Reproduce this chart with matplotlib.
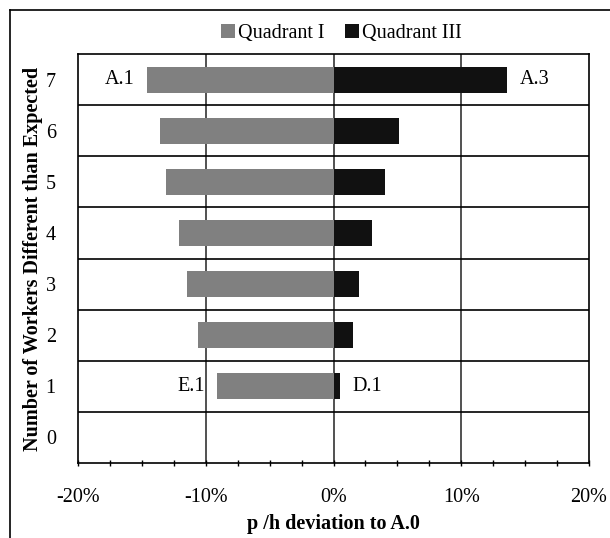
import matplotlib
matplotlib.use("Agg")
import matplotlib.pyplot as plt
from matplotlib.patches import Patch
from matplotlib.lines import Line2D
from matplotlib.ticker import MultipleLocator, FuncFormatter

plt.rcParams['font.family'] = ['Liberation Serif', 'DejaVu Serif']

# Number of workers different than expected (y categories)
workers = [1, 2, 3, 4, 5, 6, 7]
# p/h deviation to A.0, in percent
quadrant_1 = [-9.1, -10.6, -11.5, -12.1, -13.1, -13.6, -14.6]
quadrant_3 = [0.5, 1.5, 2.0, 3.0, 4.0, 5.1, 13.6]
series_names = ["Quadrant I", "Quadrant III"]
colors = ["#808080", "#111111"]

# Scenario labels attached to bar ends: (workers, series index, text)
bar_labels = [(7, 0, "A.1"), (7, 1, "A.3"), (1, 0, "E.1"), (1, 1, "D.1")]

FS = 14.5
fig = plt.figure(figsize=(6.10, 5.38), dpi=100)
ax = fig.add_axes([0.1279, 0.14, 0.8377, 0.759])

ax.barh(workers, quadrant_1, height=0.5, color=colors[0], zorder=3)
ax.barh(workers, quadrant_3, height=0.5, color=colors[1], zorder=3)

series = [quadrant_1, quadrant_3]
for w, s, txt in bar_labels:
    v = series[s][workers.index(w)]
    off = -9 if v < 0 else 9
    ax.annotate(txt, xy=(v, w), xytext=(off, 0), textcoords="offset points",
                ha="right" if v < 0 else "left", va="center", fontsize=FS)

ax.set_xlim(-20, 20)
ax.set_ylim(-0.5, 7.5)

# gridlines
for x in (-10, 0, 10):
    ax.axvline(x, color="#333333", lw=1.2, zorder=1)
for y in [k + 0.5 for k in range(7)]:
    ax.axhline(y, color="black", lw=1.2, zorder=1)

ax.xaxis.set_major_locator(MultipleLocator(10))
ax.xaxis.set_minor_locator(MultipleLocator(2.5))
ax.xaxis.set_major_formatter(FuncFormatter(lambda v, p: f"{v:.0f}%"))
ax.tick_params(axis="x", which="both", direction="inout", length=5, width=1,
               labelsize=FS, pad=16)
ax.set_yticks(range(0, 8))
ax.tick_params(axis="y", length=0, labelsize=FS, pad=16)

for sp in ax.spines.values():
    sp.set_linewidth(1.2)
    sp.set_color("black")

ax.set_xlabel("p /h deviation to A.0", fontsize=FS, fontweight="bold", labelpad=5)
ax.set_ylabel("Number of Workers Different than Expected", fontsize=FS,
              fontweight="bold", labelpad=2)

handles = [Patch(facecolor=c, edgecolor="none") for c in colors]
fig.legend(handles, series_names, loc="center", bbox_to_anchor=(0.56, 0.937),
           ncol=2, frameon=False, fontsize=FS, handlelength=0.7,
           handleheight=0.7, handletextpad=0.15, columnspacing=1.0)

# outer chart frame
fig.add_artist(Line2D([10 / 610, 10 / 610], [0, 1 - 10 / 538],
                      transform=fig.transFigure, color="black", lw=1.2))
fig.add_artist(Line2D([10 / 610, 1], [1 - 10 / 538, 1 - 10 / 538],
                      transform=fig.transFigure, color="black", lw=1.2))

fig.savefig("out.png", dpi=100)
